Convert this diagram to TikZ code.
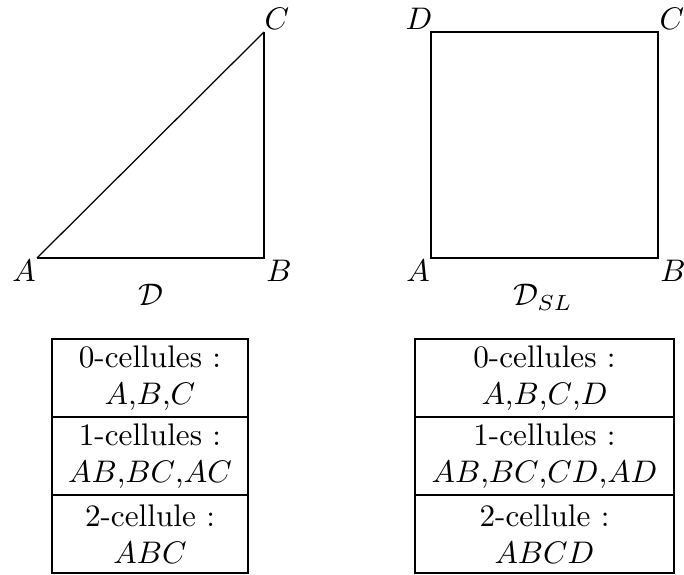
\documentclass[tikz,border=0pt]{standalone}
\begin{document}
\begin{tikzpicture}[x=0.3205pt,y=-0.3205pt,
  edgebold/.style={line width=0.7pt},
  edgethin/.style={line width=0.4pt},
  vlabel/.style={inner sep=0pt},
  cellbox/.style={draw,line width=0.4pt},
  celltext/.style={align=center,inner sep=0pt}]
\useasboundingbox (0,0) rectangle (684,574);
% triangle
\coordinate (A1) at (37,258);
\coordinate (B1) at (264,258);
\coordinate (C1) at (264,32);
\draw[edgebold] (A1) -- (B1) -- (C1);
\draw[edgethin] (A1) -- (C1);
\node[vlabel] (lA1) at (24,271) {$A$};
\node[vlabel] (lB1) at (279,271) {$B$};
\node[vlabel] (lC1) at (277,19) {$C$};
\node[vlabel] (dD) at (151,295) {$\mathcal{D}$};
% square
\coordinate (A2) at (431,258);
\coordinate (B2) at (658,258);
\coordinate (C2) at (658,32);
\coordinate (D2) at (431,32);
\draw[edgebold] (A2) -- (B2) -- (C2) -- (D2) -- cycle;
\node[vlabel] (lA2) at (418,271) {$A$};
\node[vlabel] (lB2) at (673,271) {$B$};
\node[vlabel] (lC2) at (672,19) {$C$};
\node[vlabel] (lD2) at (419,19) {$D$};
\node[vlabel] (dDSL) at (543,297) {$\mathcal{D}_{SL}$};
% left table
\draw[cellbox] (52,339) rectangle (248,573);
\draw[cellbox] (52,417) -- (248,417);
\draw[cellbox] (52,495) -- (248,495);
\node[celltext] (t1a) at (150,378) {0-cellules :\\ $A$,$B$,$C$};
\node[celltext] (t1b) at (150,456) {1-cellules :\\ $AB$,$BC$,$AC$};
\node[celltext] (t1c) at (150,534) {2-cellule :\\ $ABC$};
% right table
\draw[cellbox] (415,339) rectangle (674,573);
\draw[cellbox] (415,417) -- (674,417);
\draw[cellbox] (415,495) -- (674,495);
\node[celltext] (t2a) at (544.5,378) {0-cellules :\\ $A$,$B$,$C$,$D$};
\node[celltext] (t2b) at (544.5,456) {1-cellules :\\ $AB$,$BC$,$CD$,$AD$};
\node[celltext] (t2c) at (544.5,534) {2-cellule :\\ $ABCD$};
\end{tikzpicture}
\end{document}
